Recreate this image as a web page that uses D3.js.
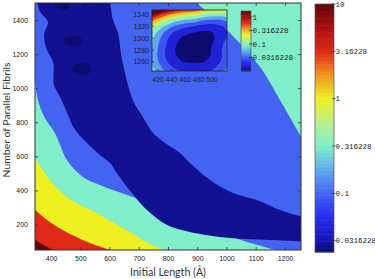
<!DOCTYPE html>
<html><head><meta charset="utf-8">
<script src="https://cdn.jsdelivr.net/npm/d3@7"></script>
<style>body{margin:0;background:#fff}svg{display:block}</style>
</head><body><svg id="c" width="375" height="279"></svg>
<script>
// ---------------- data ----------------
const xDomain = [345, 1255];
const yDomain = [50, 1500];
const xTicks = [400, 500, 600, 700, 800, 900, 1000, 1100, 1200];
const yTicks = [200, 400, 600, 800, 1000, 1200, 1400];
const xTitle = "Initial Length (Å)";
const yTitle = "Number of Parallel Fibrils";

const cbDomain = [0.024, 10];
const cbTickValues = [0.0316228, 0.1, 0.316228, 1, 3.16228, 10];
const cbTickLabels = ["0.0316228", "0.1", "0.316228", "1", "3.16228", "10"];

// value carried by each filled band of the main contour plot
const bandLevels = [0.02, 0.028, 0.1, 0.316228, 1, 3.16228, 10];

// contour boundaries: [initial length, number of fibrils]
const darkRedEdge = [[345,110],[380,74],[408,50]];
const redEdge = [[345,285],[396,214],[465,144],[533,91],[602,50]];
const yellowEdge = [[345,590],[396,461],[454,361],[567,256],[670,156],[738,85],[790,50]];
const aquaEdge = [[345,1048],[355,931],[379,825],[413,737],[431,667],[454,578],[509,479],[567,432],[680,361],[797,285],[909,197],[1029,120],[1166,50]];
const aquaTopEdge = [[892,1510],[1012,1324],[1115,1125],[1183,931],[1260,700]];
const navyLeftEdge = [[352,1510],[362,1448],[389,1389],[376,1312],[386,1224],[407,1154],[410,1019],[431,948],[458,843],[478,766],[523,678],[567,608],[602,561],[625,502],[660,420],[728,285],[797,197],[875,156],[1012,120],[1149,109],[1270,100]];
const navyRightEdge = [[602,1510],[612,1400],[629,1324],[643,1166],[680,931],[714,831],[749,737],[790,678],[841,620],[875,561],[944,461],[1022,385],[1104,344],[1183,285],[1270,240]];
const blob1 = [[419,1477],[426,1495],[441,1502],[456,1495],[463,1477],[456,1462],[441,1457],[426,1462]];
const blob2 = [[441,1277],[451,1298],[475,1306],[499,1298],[509,1277],[499,1256],[475,1248],[451,1256]];
const blob3 = [[472,1113],[482,1138],[506,1148],[530,1138],[540,1113],[530,1088],[506,1078],[482,1088]];

// inset
const insetXDomain = [411, 522];
const insetYDomain = [1245, 1347];
const insetXTicks = [420, 440, 460, 480, 500];
const insetYTicks = [1260, 1280, 1300, 1320, 1340];
const insetCbDomain = [0.01, 1.66];
const insetCbTickValues = [0.0316228, 0.1, 0.316228, 1];
const insetCbTickLabels = ["0.0316228", "0.1", "0.316228", "1"];
const insetGridX = [405,415,425,435,445,455,465,475,485,495,505,515,525];
const insetGridY = [1350,1340,1330,1320,1310,1300,1290,1280,1270,1260,1250,1240];
// log10 of the inset quantity, row by row (top row = 1350)
const insetLog10 = [
  1.26, 0.94, 0.70, 0.49, 0.33, 0.22, 0.16, 0.09,-0.09,-0.22,-0.29,-0.32,-0.29,
  0.56, 0.24, 0.00,-0.21,-0.37,-0.48,-0.54,-0.60,-0.75,-0.85,-0.88,-0.88,-0.82,
  0.01,-0.31,-0.55,-0.76,-0.92,-1.03,-1.09,-1.14,-1.26,-1.32,-1.32,-1.29,-1.20,
 -0.39,-0.71,-0.95,-1.16,-1.32,-1.43,-1.49,-1.54,-1.62,-1.64,-1.62,-1.55,-1.42,
 -0.64,-0.96,-1.20,-1.41,-1.57,-1.68,-1.74,-1.78,-1.82,-1.81,-1.76,-1.66,-1.50,
 -0.76,-1.08,-1.32,-1.53,-1.69,-1.80,-1.86,-1.89,-1.90,-1.86,-1.77,-1.64,-1.45,
 -0.82,-1.14,-1.38,-1.59,-1.75,-1.86,-1.92,-1.94,-1.91,-1.84,-1.72,-1.56,-1.33,
 -0.86,-1.18,-1.42,-1.62,-1.78,-1.88,-1.94,-1.95,-1.91,-1.82,-1.69,-1.51,-1.27,
 -0.90,-1.20,-1.43,-1.62,-1.76,-1.86,-1.90,-1.91,-1.88,-1.81,-1.69,-1.53,-1.30,
 -0.87,-1.16,-1.37,-1.55,-1.69,-1.77,-1.80,-1.80,-1.80,-1.74,-1.64,-1.49,-1.28,
 -0.79,-1.07,-1.27,-1.44,-1.56,-1.63,-1.65,-1.65,-1.66,-1.62,-1.53,-1.40,-1.21,
 -0.65,-0.92,-1.11,-1.27,-1.37,-1.43,-1.44,-1.43,-1.46,-1.44,-1.36,-1.25,-1.07
];
const insetLevels = [-3, -1.78, -1.53, -1.28, -1.03, -0.78, -0.53, -0.28, -0.03, 0.22];

// ---------------- drawing ----------------
const svg = d3.select("#c");
const M = {l: 35, r: 301, t: 3, b: 250};
const x = d3.scaleLinear().domain(xDomain).range([M.l, M.r]);
const y = d3.scaleLinear().domain(yDomain).range([M.b, M.t]);

const jetT = [0, 0.06, 0.15, 0.24, 0.33, 0.43, 0.52, 0.62, 0.72, 0.81, 0.9, 1];
const jetC = ["#0c0c70","#1818c0","#2a30f0","#4466f2","#60a8f0","#80f0c8","#b8f090","#f0f020","#f09020","#e02818","#b01010","#600808"];
const jet = d3.scaleLinear().domain(jetT).range(jetC).clamp(true);
const mainT = d3.scaleLog().domain(cbDomain).range([0, 1]).clamp(true);
const colorMain = v => jet(mainT(v));

const defs = svg.append("defs");
defs.append("clipPath").attr("id", "clipMain").append("rect")
  .attr("x", M.l).attr("y", M.t).attr("width", M.r - M.l).attr("height", M.b - M.t);

const g = svg.append("g").attr("clip-path", "url(#clipMain)");
const line = d3.line().x(d => x(d[0])).y(d => y(d[1])).curve(d3.curveCatmullRom.alpha(0.5));
const closed = d3.line().x(d => x(d[0])).y(d => y(d[1])).curve(d3.curveCatmullRomClosed.alpha(0.5));
const fx = x.domain()[0] - 20, fy = y.domain()[0] - 20;

function lowerLeft(edge) {
  const a = edge[0], b = edge[edge.length - 1];
  return line(edge) + `L${x(b[0])},${y(fy)}L${x(fx)},${y(fy)}L${x(fx)},${y(a[1])}Z`;
}
g.append("rect").attr("x", M.l).attr("y", M.t).attr("width", M.r - M.l).attr("height", M.b - M.t)
  .attr("fill", colorMain(bandLevels[2]));
g.append("path").attr("d", lowerLeft(aquaEdge)).attr("fill", colorMain(bandLevels[3]));
g.append("path").attr("d", lowerLeft(yellowEdge)).attr("fill", colorMain(bandLevels[4]));
g.append("path").attr("d", lowerLeft(redEdge)).attr("fill", colorMain(bandLevels[5]));
g.append("path").attr("d", lowerLeft(darkRedEdge)).attr("fill", colorMain(bandLevels[6]));
{
  const a = aquaTopEdge[0], b = aquaTopEdge[aquaTopEdge.length - 1];
  const d = line(aquaTopEdge) + `L${x(1300)},${y(b[1])}L${x(1300)},${y(1560)}L${x(a[0])},${y(1560)}Z`;
  g.append("path").attr("d", d).attr("fill", colorMain(bandLevels[3]));
}
{
  const d = line(navyLeftEdge) + line(navyRightEdge.slice().reverse()).replace(/^M/, "L") + "Z";
  g.append("path").attr("d", d).attr("fill", colorMain(bandLevels[1]));
}
[blob1, blob2, blob3].forEach(b => g.append("path").attr("d", closed(b)).attr("fill", colorMain(bandLevels[0])));

// axes (ticks pointing inward on all four sides)
const tickFont = "Liberation Sans";
const fmt = d3.format("d");
function styleAxis(sel, showLabels) {
  sel.select(".domain").remove();
  sel.selectAll(".tick line").attr("stroke", "#333").attr("stroke-width", 0.8);
  sel.selectAll(".tick text").attr("font-family", tickFont).attr("font-size", 7).attr("fill", "#222")
    .style("display", showLabels ? null : "none");
}
svg.append("g").attr("transform", `translate(0,${M.b})`)
  .call(d3.axisBottom(x).tickValues(xTicks).tickFormat(fmt).tickSize(-3).tickPadding(6)).call(s => styleAxis(s, true));
svg.append("g").attr("transform", `translate(0,${M.t})`)
  .call(d3.axisTop(x).tickValues(xTicks).tickFormat(fmt).tickSize(-3)).call(s => styleAxis(s, false));
svg.append("g").attr("transform", `translate(${M.l},0)`)
  .call(d3.axisLeft(y).tickValues(yTicks).tickFormat(fmt).tickSize(-3).tickPadding(7)).call(s => styleAxis(s, true));
svg.append("g").attr("transform", `translate(${M.r},0)`)
  .call(d3.axisRight(y).tickValues(yTicks).tickFormat(fmt).tickSize(-3)).call(s => styleAxis(s, false));
svg.append("rect").attr("x", M.l).attr("y", M.t).attr("width", M.r - M.l).attr("height", M.b - M.t)
  .attr("fill", "none").attr("stroke", "#333").attr("stroke-width", 1);

// titles
function fitText(t, w) {
  const len = t.node().getComputedTextLength();
  t.attr("font-size", +t.attr("font-size") * w / len);
}
const xt = svg.append("text").attr("x", (M.l + M.r) / 2).attr("y", 276).attr("text-anchor", "middle")
  .attr("font-family", "Lato").attr("font-size", 10).attr("fill", "#333").text(xTitle);
fitText(xt, 76);
const yt = svg.append("text").attr("transform", "translate(10,120) rotate(-90)").attr("text-anchor", "middle")
  .attr("font-family", "Lato").attr("font-size", 10).attr("fill", "#333").text(yTitle);
fitText(yt, 115);

// colorbars
function colorbar(x0, x1, scale, dom, tickVals, tickLabs) {
  const n = 70;
  const l0 = Math.log10(dom[0]), l1 = Math.log10(dom[1]);
  const cg = svg.append("g");
  const tt = d3.scaleLog().domain(dom).range([0, 1]);
  for (let i = 0; i < n; i++) {
    const va = Math.pow(10, l0 + (l1 - l0) * i / n), vb = Math.pow(10, l0 + (l1 - l0) * (i + 1) / n);
    const vm = Math.pow(10, l0 + (l1 - l0) * (i + 0.5) / n);
    cg.append("rect").attr("x", x0).attr("width", x1 - x0)
      .attr("y", scale(vb)).attr("height", scale(va) - scale(vb) + 0.5)
      .attr("fill", jet(tt(vm)));
  }
  cg.append("rect").attr("x", x0).attr("y", scale(dom[1])).attr("width", x1 - x0)
    .attr("height", scale(dom[0]) - scale(dom[1])).attr("fill", "none").attr("stroke", "#555").attr("stroke-width", 0.7);
  tickVals.forEach((v, i) => {
    cg.append("line").attr("x1", x1 - 2).attr("x2", x1 + 1.5).attr("y1", scale(v)).attr("y2", scale(v))
      .attr("stroke", "#333").attr("stroke-width", 0.8);
    cg.append("text").attr("x", x1 + 1.5).attr("y", scale(v)).attr("dy", "0.35em")
      .attr("font-family", "Liberation Mono").attr("font-size", 7.5).attr("fill", "#222").text(tickLabs[i]);
  });
}
const cbY = d3.scaleLog().domain(cbDomain).range([252, 4]);
colorbar(315, 334, cbY, cbDomain, cbTickValues, cbTickLabels);

// ---------------- inset ----------------
const IX = {l: 152, r: 227, t: 10, b: 71};
const ix = d3.scaleLinear().domain(insetXDomain).range([IX.l, IX.r]);
const iy = d3.scaleLinear().domain(insetYDomain).range([IX.b, IX.t]);
const insetCbY = d3.scaleLog().domain(insetCbDomain).range([71, 11]);
const insetT = d3.scaleLinear().domain([Math.log10(insetCbDomain[0]), Math.log10(insetCbDomain[1])]).range([0, 1]).clamp(true);

defs.append("clipPath").attr("id", "clipInset").append("rect")
  .attr("x", IX.l).attr("y", IX.t).attr("width", IX.r - IX.l).attr("height", IX.b - IX.t);
const gi = svg.append("g").attr("clip-path", "url(#clipInset)");
const nx = insetGridX.length, ny = insetGridY.length;
const dxg = insetGridX[1] - insetGridX[0], dyg = insetGridY[1] - insetGridY[0];
const proj = d3.geoTransform({
  point(px, py) {
    this.stream.point(ix(insetGridX[0] + (px - 0.5) * dxg), iy(insetGridY[0] + (py - 0.5) * dyg));
  }
});
const gpath = d3.geoPath(proj);
const cont = d3.contours().size([nx, ny]).thresholds(insetLevels)(insetLog10);
cont.forEach((c, i) => {
  const lv = insetLevels[i] < -2 ? -2 : insetLevels[i];
  gi.append("path").attr("d", gpath(c)).attr("fill", jet(insetT(lv)));
});
svg.append("rect").attr("x", IX.l).attr("y", IX.t).attr("width", IX.r - IX.l).attr("height", IX.b - IX.t)
  .attr("fill", "none").attr("stroke", "#222").attr("stroke-width", 0.8);
insetXTicks.forEach(v => {
  svg.append("line").attr("x1", ix(v)).attr("x2", ix(v)).attr("y1", IX.b).attr("y2", IX.b - 2).attr("stroke", "#222").attr("stroke-width", 0.7);
  svg.append("text").attr("x", ix(v)).attr("y", 82).attr("text-anchor", "middle")
    .attr("font-family", tickFont).attr("font-size", 7).attr("fill", "#222").text(fmt(v));
});
insetYTicks.forEach(v => {
  svg.append("line").attr("x1", IX.l).attr("x2", IX.l + 2).attr("y1", iy(v)).attr("y2", iy(v)).attr("stroke", "#222").attr("stroke-width", 0.7);
  svg.append("text").attr("x", 149).attr("y", iy(v)).attr("dy", "0.35em").attr("text-anchor", "end")
    .attr("font-family", tickFont).attr("font-size", 7).attr("fill", "#222").text(fmt(v));
});
colorbar(241, 251, insetCbY, insetCbDomain, insetCbTickValues, insetCbTickLabels);
</script>
</body></html>
